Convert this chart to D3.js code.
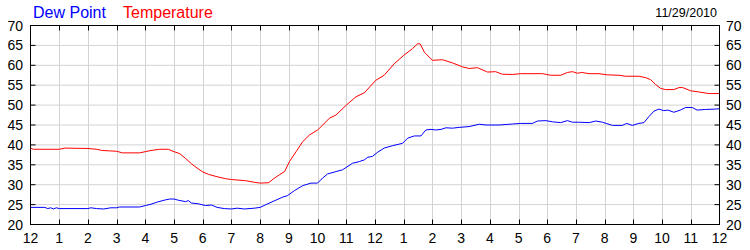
<!DOCTYPE html>
<html lang="en">
<head>
<meta charset="UTF-8">
<title>Dew Point / Temperature</title>
<script src="https://d3js.org/d3.v7.min.js"></script>
<style>
    body { margin: 0; background: #fff; }
    text { font-family: "Liberation Sans", Arial, sans-serif; }
</style>
</head>
<body>
<div id="chart"></div>
<script>
"use strict";

// hours since midnight
let tempHours = [0, 0.1, 1.0, 1.2, 2.0, 2.3, 2.5, 2.75, 3.0, 3.2, 3.8, 4.0, 4.2, 4.5, 4.8, 5.0, 5.2, 5.4, 5.6, 5.8,
    6.0, 6.2, 6.5, 6.8, 7.0, 7.5, 7.8, 8.0, 8.3, 8.45, 8.67, 8.85, 9.02, 9.25, 9.48, 9.72, 10.0, 10.18, 10.41, 10.64,
    11.0, 11.34, 11.63, 12.03, 12.32, 12.67, 13.0, 13.31, 13.48, 13.57, 13.72, 14.0, 14.35, 14.7, 15.05, 15.28, 15.57,
    15.92, 16.2, 16.44, 16.8, 17.08, 17.83, 18.12, 18.47, 18.7, 18.88, 19.05, 19.2, 19.46, 19.8, 20.09, 20.5, 20.73,
    21.19, 21.43, 21.6, 21.77, 21.95, 22.12, 22.41, 22.59, 22.72, 22.99, 23.28, 23.63, 24];
let tempValues = [39.2, 38.9, 38.9, 39.2, 39.1, 38.9, 38.6, 38.5, 38.4, 38.0, 38.0, 38.3, 38.6, 38.9, 38.9, 38.3, 37.8, 36.6, 35.3, 34.2,
    33.2, 32.6, 32.0, 31.5, 31.3, 31.0, 30.6, 30.4, 30.5, 31.4, 32.5, 33.3, 35.8, 38.3, 40.8, 42.5, 43.75, 45, 46.7, 47.5,
    50, 52.1, 53.1, 56.25, 57.5, 60.4, 62.5, 64.2, 65.4, 65.4, 63.3, 61.25, 61.4, 60.6, 59.6, 59.2, 59.4,
    58.3, 58.4, 57.75, 57.7, 57.9, 57.9, 57.5, 57.5, 58.2, 58.4, 58.0, 58.2, 57.9, 57.9, 57.6, 57.5, 57.25,
    57.25, 56.9, 56.4, 55.2, 54.2, 53.9, 53.9, 54.4, 54.4, 53.6, 53.3, 52.9, 52.9];

let dewHours = [0, 0.5, 0.6, 0.7, 0.8, 0.9, 1.0, 2.0, 2.1, 2.3, 2.55, 2.8, 3.0, 3.1, 3.8, 4.0, 4.2, 4.4, 4.65, 4.85,
    5.0, 5.15, 5.4, 5.5, 5.6, 5.85, 6.1, 6.3, 6.5, 6.75, 7.0, 7.2, 7.45, 7.8, 8.0, 8.2, 8.45, 8.79, 8.95, 9.19,
    9.48, 9.77, 10.0, 10.18, 10.35, 10.64, 10.87, 11.22, 11.45, 11.63, 11.75, 11.91, 12.1, 12.32, 12.61, 12.96, 13.14,
    13.37, 13.6, 13.77, 13.95, 14.12, 14.3, 14.47, 14.7, 14.93, 15.28, 15.63, 15.86, 16.32, 16.79, 17.08, 17.48, 17.66,
    17.95, 18.18, 18.47, 18.7, 18.88, 19.1, 19.46, 19.69, 19.92, 20.05, 20.27, 20.61, 20.77, 20.96, 21.19, 21.37, 21.54,
    21.72, 21.89, 22.06, 22.2, 22.41, 22.64, 22.82, 23.05, 23.22, 23.51, 23.86, 24];
let dewValues = [24.3, 24.3, 24.0, 24.2, 23.9, 24.2, 24.0, 24.0, 24.2, 24.0, 23.9, 24.2, 24.2, 24.4, 24.4, 24.75, 25.1, 25.6, 26.1, 26.4,
    26.4, 26.1, 25.75, 26.0, 25.4, 25.2, 24.75, 24.9, 24.3, 24.0, 23.9, 24.1, 23.9, 24.1, 24.3, 25.0, 25.8, 26.9, 27.25, 28.5,
    29.75, 30.4, 30.4, 31.7, 32.7, 33.3, 33.75, 35.4, 35.8, 36.25, 36.9, 37.1, 38.2, 39.2, 39.8, 40.4, 41.7,
    42.25, 42.25, 43.75, 43.9, 43.75, 43.9, 44.3, 44.2, 44.4, 44.6, 45.2, 45.0, 45.0, 45.25, 45.4, 45.4, 46.0,
    46.1, 45.8, 45.6, 46.1, 45.7, 45.7, 45.6, 46.0, 45.7, 45.4, 44.9, 44.9, 45.4, 44.9, 45.4, 45.6, 47.1,
    48.5, 49.0, 48.6, 48.75, 48.2, 48.75, 49.4, 49.4, 48.75, 48.9, 49.0, 49.1];

let hourTicks = d3.range(0, 25);
let hourLabels = ['12', '1', '2', '3', '4', '5', '6', '7', '8', '9', '10', '11',
                  '12', '1', '2', '3', '4', '5', '6', '7', '8', '9', '10', '11', '12'];
let valueTicks = [20, 25, 30, 35, 40, 45, 50, 55, 60, 65, 70];
let seriesNames = ['Dew Point', 'Temperature'];
let seriesColours = ['#0000ff', '#ff0000'];
let dateLabel = '11/29/2010';

let svgWidth = 750, svgHeight = 250;
let plotLeft = 30.5, plotRight = 719.5, plotTop = 25.5, plotBottom = 224.5;

let x = d3.scaleLinear().domain([0, 24]).range([plotLeft, plotRight]);
let y = d3.scaleLinear().domain([20, 70]).range([plotBottom, plotTop]);

let svg = d3.select('#chart').append('svg')
    .attr('width', svgWidth)
    .attr('height', svgHeight);

// grid
svg.append('g').selectAll('line')
    .data(hourTicks.slice(1, -1))
    .join('line')
    .attr('x1', d => Math.round(x(d)) + 0.5).attr('x2', d => Math.round(x(d)) + 0.5)
    .attr('y1', plotTop).attr('y2', plotBottom)
    .attr('stroke', '#d3d3d3');
svg.append('g').selectAll('line')
    .data(valueTicks.slice(1, -1))
    .join('line')
    .attr('x1', plotLeft).attr('x2', plotRight)
    .attr('y1', d => y(d)).attr('y2', d => y(d))
    .attr('stroke', '#d3d3d3');

// little tick marks inside the frame
let tickLen = 5;
let ticks = svg.append('g').attr('stroke', '#000');
hourTicks.slice(1, -1).forEach(h => {
    let px = Math.round(x(h)) + 0.5;
    ticks.append('line').attr('x1', px).attr('x2', px).attr('y1', plotTop).attr('y2', plotTop + tickLen);
    ticks.append('line').attr('x1', px).attr('x2', px).attr('y1', plotBottom).attr('y2', plotBottom - tickLen);
});
valueTicks.slice(1, -1).forEach(v => {
    ticks.append('line').attr('x1', plotLeft).attr('x2', plotLeft + tickLen).attr('y1', y(v)).attr('y2', y(v));
    ticks.append('line').attr('x1', plotRight).attr('x2', plotRight - tickLen).attr('y1', y(v)).attr('y2', y(v));
});

// lines
let line = d3.line().x(d => x(d[0])).y(d => y(d[1]));
svg.append('path')
    .datum(dewHours.map((h, i) => [h, dewValues[i]]))
    .attr('d', line)
    .attr('fill', 'none')
    .attr('stroke', seriesColours[0])
    .attr('stroke-width', 1);
svg.append('path')
    .datum(tempHours.map((h, i) => [h, tempValues[i]]))
    .attr('d', line)
    .attr('fill', 'none')
    .attr('stroke', seriesColours[1])
    .attr('stroke-width', 1);

// frame
svg.append('rect')
    .attr('x', plotLeft).attr('y', plotTop)
    .attr('width', plotRight - plotLeft).attr('height', plotBottom - plotTop)
    .attr('fill', 'none').attr('stroke', '#000');

// axis labels
let fs = 14;
svg.append('g').selectAll('text')
    .data(valueTicks)
    .join('text')
    .attr('x', 23).attr('y', d => y(d) + 5)
    .attr('text-anchor', 'end')
    .attr('font-size', fs)
    .text(d => d);
svg.append('g').selectAll('text')
    .data(valueTicks)
    .join('text')
    .attr('x', 726).attr('y', d => y(d) + 5)
    .attr('font-size', fs)
    .text(d => d);
svg.append('g').selectAll('text')
    .data(hourTicks)
    .join('text')
    .attr('x', d => x(d)).attr('y', 243)
    .attr('text-anchor', 'middle')
    .attr('font-size', fs)
    .text((d, i) => hourLabels[i]);

// legend + date
svg.append('text').attr('x', 33).attr('y', 18)
    .attr('font-size', 16).attr('fill', seriesColours[0]).text(seriesNames[0]);
svg.append('text').attr('x', 123).attr('y', 18)
    .attr('font-size', 16).attr('fill', seriesColours[1]).text(seriesNames[1]);
svg.append('text').attr('x', 717).attr('y', 17)
    .attr('text-anchor', 'end')
    .attr('font-size', 12.5).text(dateLabel);
</script>
</body>
</html>
